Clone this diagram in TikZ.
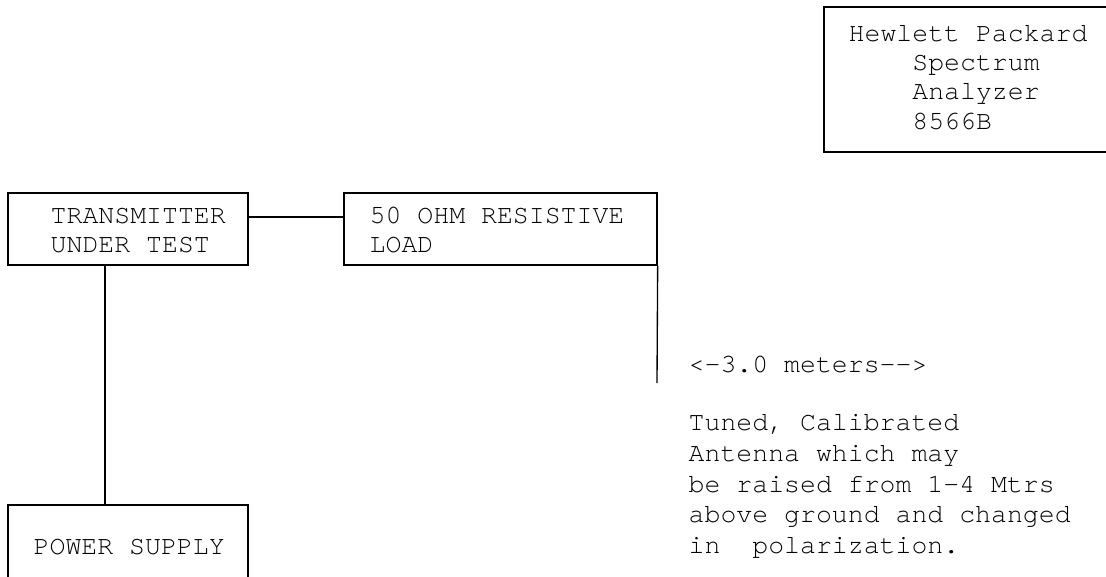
\documentclass[tikz,border=0pt]{standalone}
\usepackage{fontspec}
\usepackage{tikz}
\newfontfamily\monofont{TeX Gyre Cursor}
\tikzset{every picture/.style={line width=1pt}}
\tikzset{
  unitbox/.style={draw, rectangle, inner sep=0pt},
  label text/.style={anchor=west, inner sep=0pt, align=left,
    font=\fontsize{19.9}{22}\selectfont\monofont},
}

\begin{document}
\begin{tikzpicture}[x=0.75pt,y=0.75pt,yscale=-1,xscale=1]
\useasboundingbox (0,0) rectangle (1106,576);

%Shape: Rectangle [id:hp]
\node [unitbox, minimum width=214.5pt, minimum height=108.75pt] (hp) at (967,79.5) {};
%Shape: Rectangle [id:tx]
\node [unitbox, minimum width=180pt, minimum height=54pt] (tx) at (128,229) {};
%Shape: Rectangle [id:load]
\node [unitbox, minimum width=234.75pt, minimum height=54pt] (load) at (500.5,229) {};
%Shape: Rectangle [id:power]
\node [unitbox, minimum width=180pt, minimum height=56.25pt] (power) at (128,542.5) {};

%Straight Lines [id:txload]
\draw ([yshift=-9pt]tx.east) -- ([yshift=-9pt]load.west) ;
%Straight Lines [id:txpower]
\draw ([xshift=-17.25pt]tx.south) -- ([xshift=-17.25pt]power.north) ;
%Straight Lines [id:loaddown]
\coordinate (loadend) at (657,383);
\draw (load.south east) -- (loadend) ;

% Text Node
\node [label text] (hptext) at (848,77.5) {Hewlett Packard\\\phantom{0000}Spectrum\\\phantom{0000}Analyzer\\\phantom{0000}8566B};
% Text Node
\node [label text] (txtext) at (50,230.5) {TRANSMITTER\\UNDER TEST};
% Text Node
\node [label text] (loadtext) at (369,230) {50 OHM RESISTIVE\\LOAD};
% Text Node
\node [label text] (meters) at (688,365) {<-3.0 meters-->};
% Text Node
\node [label text, font=\fontsize{19.9}{23}\selectfont\monofont] (antenna) at (688,486.5) {Tuned, Calibrated\\Antenna which may\\be raised from 1-4 Mtrs\\above ground and changed\\in\ \ polarization.};
% Text Node
\node [label text] (powertext) at (33,547) {POWER SUPPLY};

\end{tikzpicture}
\end{document}
